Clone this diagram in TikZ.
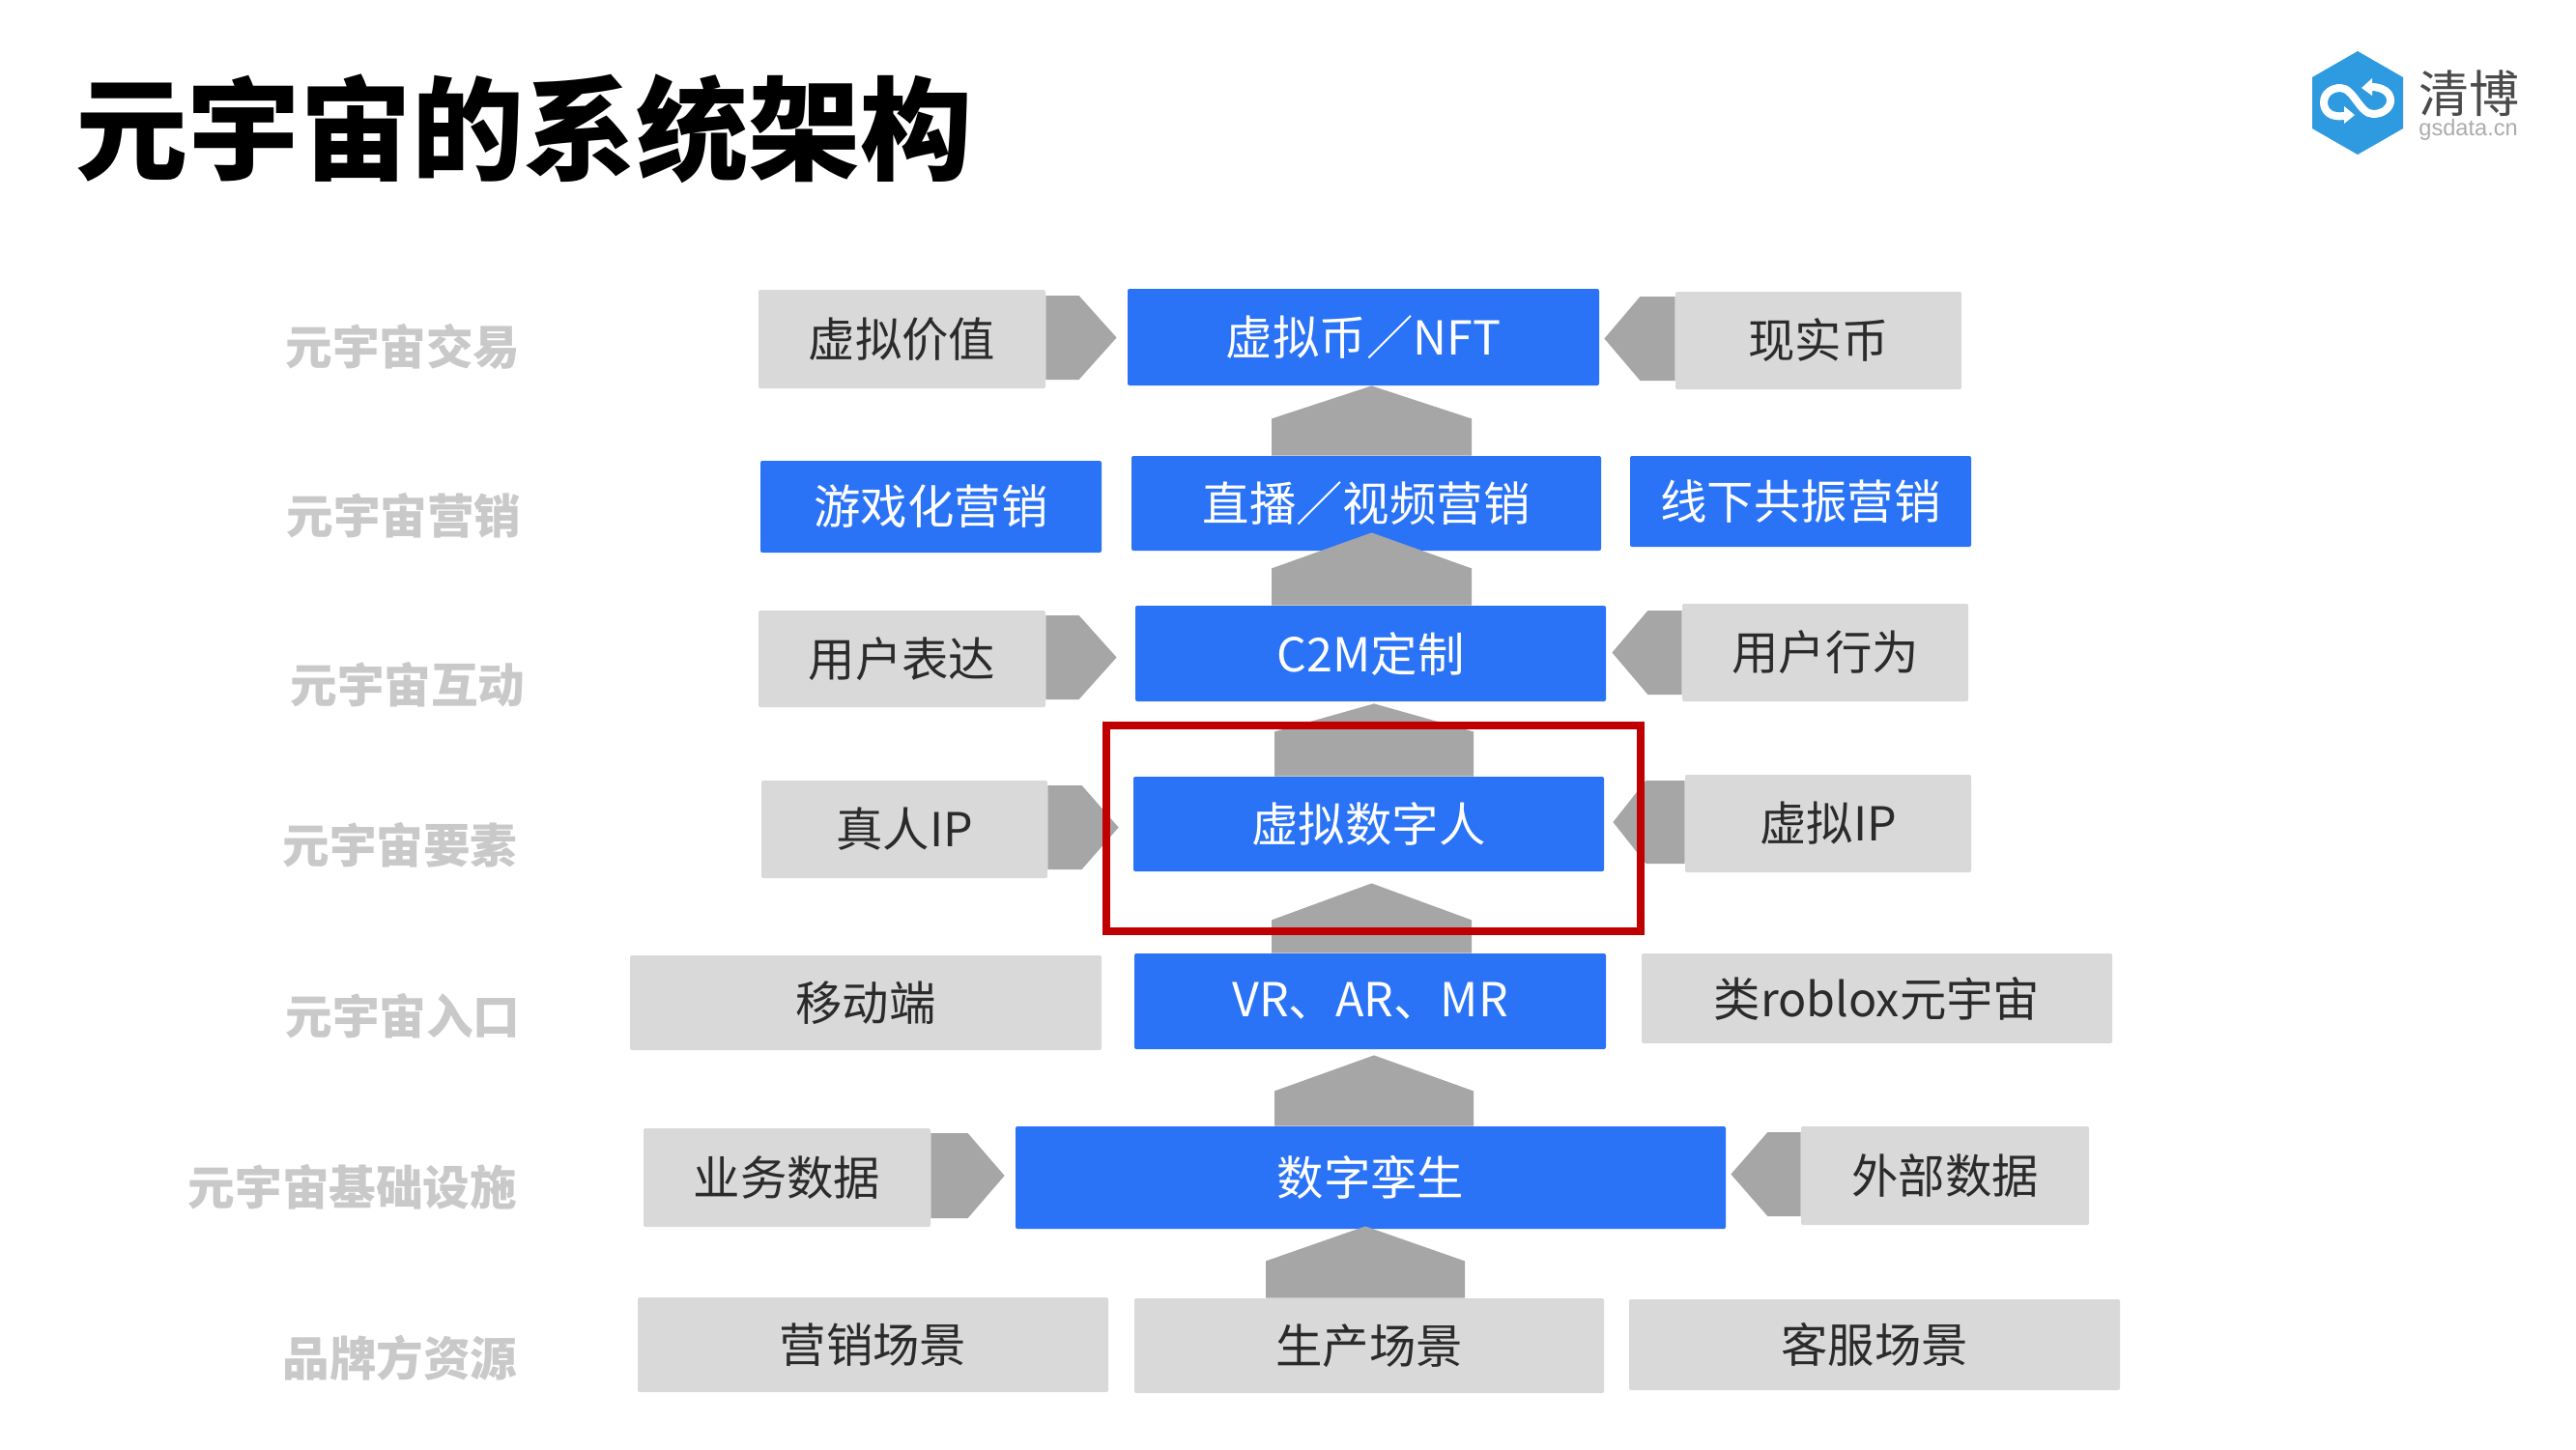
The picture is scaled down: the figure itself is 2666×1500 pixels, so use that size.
\documentclass[tikz,border=0pt]{standalone}
\usepackage{fontspec}
\usetikzlibrary{calc}
\setmainfont{Noto Sans CJK SC}
\newfontfamily\latinlogo{Liberation Sans}
\definecolor{bluebox}{HTML}{2A73F6}
\definecolor{graybox}{HTML}{D9D9D9}
\definecolor{grayarrow}{HTML}{A6A6A6}
\definecolor{darktext}{HTML}{2B2B2B}
\definecolor{sidelabel}{HTML}{C9C9C9}
\definecolor{redframe}{HTML}{C00000}
\definecolor{logoblue}{HTML}{2E9AE0}
\tikzset{
  boxbase/.style={rectangle,inner sep=0pt,rounded corners=1pt,font=\fontsize{24.2}{28}\selectfont},
  bluenode/.style={boxbase,fill=bluebox,text=white},
  graynode/.style={boxbase,fill=graybox,text=darktext},
  sidenode/.style={font=\fontsize{24.3}{28}\selectfont\bfseries,text=sidelabel,inner sep=0pt},
  blockarrow/.style={fill=grayarrow,draw=none},
}
% \boxn{name}{style}{x1}{y1}{x2}{y2}{text}
\newcommand\boxn[7]{%
  \pgfmathsetmacro\bw{(#5-#3)*0.5}%
  \pgfmathsetmacro\bh{(#6-#4)*0.5}%
  \node[#2,minimum width=\bw pt,minimum height=\bh pt] (#1) at ({(#3+#5)/2},{(#4+#6)/2}) {\raisebox{2pt}{#7}};%
}
% \hblock{from anchor}{to anchor}{gap to target}{top y}{bottom y}{head length}
\newcommand\hblock[6]{%
  \pgfmathsetmacro\midy{(#4+#5)/2}%
  \coordinate (tipx) at ($(#2)+(#3,0)$);%
  \coordinate (headx) at ($(#2)+(#3+#6,0)$);%
  \fill[blockarrow] (#1 |- 0,#4) -- (headx |- 0,#4) -- (tipx |- 0,\midy) -- (headx |- 0,#5) -- (#1 |- 0,#5) -- cycle;%
}
% \vblock{from anchor}{to anchor}{tip offset}{x1}{x2}{head length}
\newcommand\vblock[6]{%
  \pgfmathsetmacro\midx{(#4+#5)/2}%
  \coordinate (tipy) at ($(#2)+(0,#3)$);%
  \coordinate (heady) at ($(#2)+(0,#3+#6)$);%
  \fill[blockarrow] (#4,0 |- #1) -- (#4,0 |- heady) -- (\midx,0 |- tipy) -- (#5,0 |- heady) -- (#5,0 |- #1) -- cycle;%
}
\begin{document}
\begin{tikzpicture}[x=0.5pt,y=-0.5pt]
\useasboundingbox (0,0) rectangle (2666,1500);
\fill[white] (0,0) rectangle (2666,1500);

\node[anchor=west,inner sep=0pt,font=\fontsize{58}{64}\selectfont\bfseries,text=black] (title) at (78,133) {元宇宙的系统架构};

% side labels
\node[sidenode] (s1) at (417,359) {元宇宙交易};
\node[sidenode] (s2) at (418,534) {元宇宙营销};
\node[sidenode] (s3) at (422,709) {元宇宙互动};
\node[sidenode] (s4) at (414,875) {元宇宙要素};
\node[sidenode] (s5) at (417,1052) {元宇宙入口};
\node[sidenode] (s6) at (365,1229) {元宇宙基础设施};
\node[sidenode] (s7) at (414,1406) {品牌方资源};

% row 1
\boxn{a1}{graynode}{785}{300}{1082}{402}{虚拟价值}
\boxn{a2}{bluenode}{1167}{299}{1655}{399}{虚拟币／NFT}
\boxn{a3}{graynode}{1734}{302}{2030}{403}{现实币}
% row 2
\boxn{b1}{bluenode}{787}{477}{1140}{572}{游戏化营销}
\boxn{b2}{bluenode}{1171}{472}{1657}{570}{直播／视频营销}
\boxn{b3}{bluenode}{1687}{472}{2040}{566}{线下共振营销}
% row 3
\boxn{c1}{graynode}{785}{632}{1082}{732}{用户表达}
\boxn{c2}{bluenode}{1175}{627}{1662}{726}{C2M定制}
\boxn{c3}{graynode}{1741}{625}{2037}{726}{用户行为}
% row 4
\boxn{d1}{graynode}{788}{808}{1084}{909}{真人IP}
\boxn{d2}{bluenode}{1173}{804}{1660}{902}{虚拟数字人}
\boxn{d3}{graynode}{1744}{802}{2040}{903}{虚拟IP}
% row 5
\boxn{e1}{graynode}{652}{989}{1140}{1087}{移动端}
\boxn{e2}{bluenode}{1174}{987}{1662}{1086}{VR、AR、MR}
\boxn{e3}{graynode}{1699}{987}{2186}{1080}{类roblox元宇宙}
% row 6
\boxn{f1}{graynode}{666}{1168}{963}{1270}{业务数据}
\boxn{f2}{bluenode}{1051}{1166}{1786}{1272}{数字孪生}
\boxn{f3}{graynode}{1864}{1166}{2162}{1268}{外部数据}
% row 7
\boxn{g1}{graynode}{660}{1343}{1147}{1441}{营销场景}
\boxn{g2}{graynode}{1174}{1344}{1660}{1442}{生产场景}
\boxn{g3}{graynode}{1686}{1345}{2194}{1439}{客服场景}

% horizontal block arrows
\hblock{a1.east}{a2.west}{-11}{306}{393}{-39}
\hblock{a3.west}{a2.east}{5}{307}{394}{37}
\hblock{c1.east}{c2.west}{-19}{637}{724}{-39}
\hblock{c3.west}{c2.east}{6}{632}{719}{37}
\hblock{d1.east}{d2.west}{-15}{813}{900}{-38}
\hblock{d3.west}{d2.east}{9}{808}{894}{34}
\hblock{f1.east}{f2.west}{-11}{1173}{1261}{-38}
\hblock{f3.west}{f2.east}{5}{1172}{1259}{38}

% vertical block arrows
\vblock{b2.north}{a2.south}{0}{1316}{1523}{34}
\vblock{c2.north}{b2.south}{-19}{1316}{1523}{37}
\vblock{d2.north}{c2.south}{2}{1319}{1525}{29}
\vblock{e2.north}{d2.south}{12}{1316}{1523}{38}
\vblock{f2.north}{e2.south}{6}{1319}{1525}{37}
\vblock{g2.north}{f2.south}{-3}{1310}{1516}{36}

% highlight frame
\draw[redframe,line width=4pt] (1145,751) rectangle (1698,964);

% logo
\fill[logoblue] (2440,53) -- (2487,80) -- (2487,133) -- (2440,160) -- (2393,133) -- (2393,80) -- cycle;
\draw[white,line width=4pt,line cap=round] (2426,120) .. controls (2412,122) and (2405,115) .. (2405,106) .. controls (2405,96) and (2414,91) .. (2422,91) .. controls (2436,91) and (2442,118) .. (2456,118) .. controls (2466,118) and (2474,112) .. (2474,104) .. controls (2474,95) and (2465,90) .. (2454,90);
\fill[white] (2444,91) -- (2455,81) -- (2455,99) -- cycle;
\fill[white] (2437,119) -- (2426,110) -- (2426,128) -- cycle;
\node[anchor=west,inner sep=0pt,text=darktext!85,font=\fontsize{26}{30}\selectfont] (logotext) at (2503,97) {清博};
\node[anchor=west,inner sep=0pt,text=gray!65,font=\fontsize{11.8}{13}\latinlogo] (logosub) at (2503,134) {gsdata.cn};
\end{tikzpicture}
\end{document}
